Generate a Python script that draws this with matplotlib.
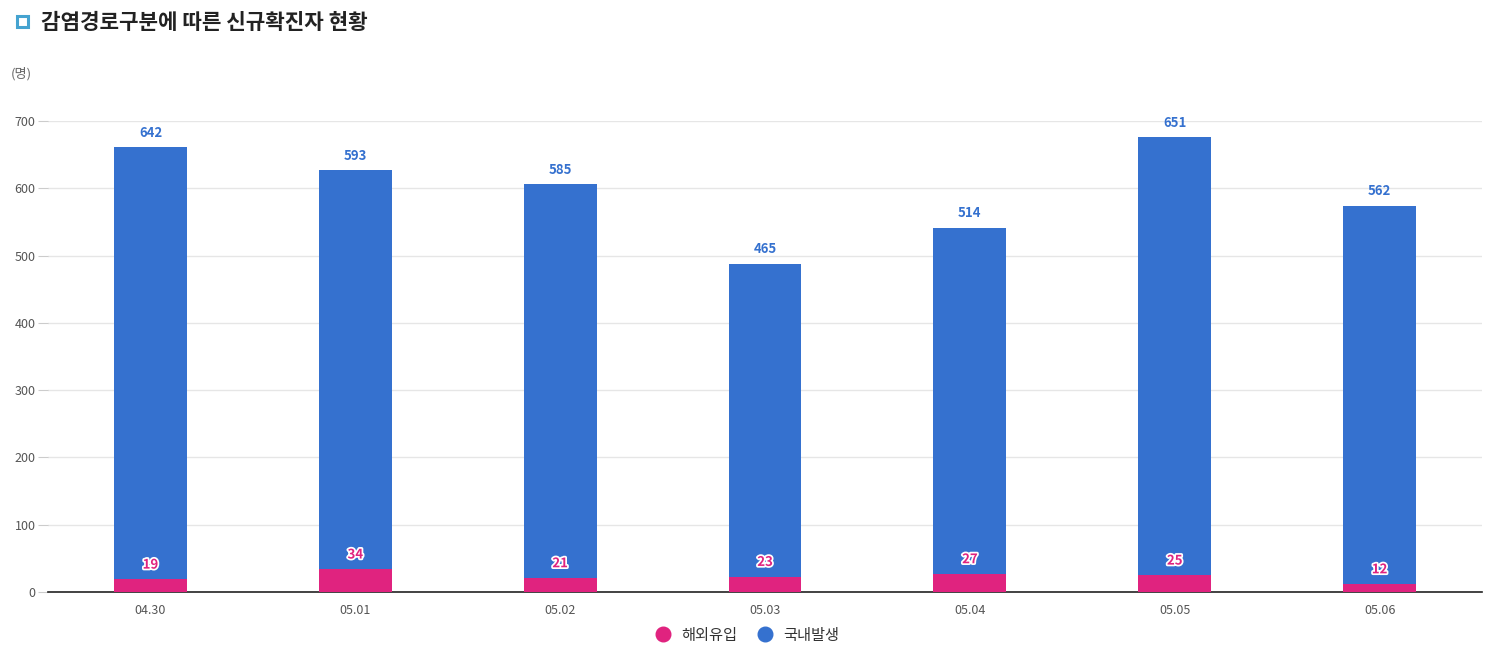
import matplotlib
matplotlib.use("Agg")
import matplotlib.pyplot as plt
import matplotlib.patheffects as pe
from matplotlib.patches import Rectangle
from matplotlib.lines import Line2D

plt.rcParams['font.family'] = ['Noto Sans CJK KR', 'DejaVu Sans']

dates = ["04.30", "05.01", "05.02", "05.03", "05.04", "05.05", "05.06"]
overseas = [19, 34, 21, 23, 27, 25, 12]
domestic = [642, 593, 585, 465, 514, 651, 562]

pink = "#E0237F"
blue = "#3571CF"

fig = plt.figure(figsize=(14.91, 6.46), dpi=100)
ax = fig.add_axes([0.0322, 0.0836, 0.9618, 0.7291])

x = list(range(len(dates)))
w = 0.356
ax.bar(x, overseas, width=w, color=pink, zorder=3)
ax.bar(x, domestic, width=w, bottom=overseas, color=blue, zorder=3)

for i in x:
    tot = overseas[i] + domestic[i]
    ax.annotate(str(domestic[i]), (i, tot), xytext=(0, 10.5), textcoords='offset points',
                ha='center', va='center', color=blue, fontsize=9.5, fontweight='bold', zorder=5)
    t = ax.annotate(str(overseas[i]), (i, overseas[i]), xytext=(0, 10.5), textcoords='offset points',
                    ha='center', va='center', color=pink, fontsize=9.5, fontweight='bold', zorder=5)
    t.set_path_effects([pe.withStroke(linewidth=2.5, foreground='white')])

ax.set_xlim(-0.5, len(dates) - 0.5)
ax.set_ylim(0, 700)
ax.set_yticks(range(0, 701, 100))
ax.set_xticks(x)
ax.set_xticklabels(dates)
ax.grid(axis='y', color='#e6e6e6', linewidth=1, zorder=0)
for s in ['top', 'right', 'left']:
    ax.spines[s].set_visible(False)
ax.spines['bottom'].set_color('#222222')
ax.spines['bottom'].set_linewidth(1.2)
ax.tick_params(axis='y', length=7, color='#cccccc', labelcolor='#555555', labelsize=9, pad=2)
ax.tick_params(axis='x', length=0, labelcolor='#555555', labelsize=9, pad=9)

# y unit
fig.text(0.0075, 0.885, "(명)", fontsize=9.5, color='#666666', ha='left', va='center')

# title with square icon
fig.patches.append(Rectangle((0.0115, 0.9575), 0.0075, 0.0175, transform=fig.transFigure,
                             fill=False, edgecolor='#45A3D0', linewidth=2.2))
fig.text(0.0275, 0.965, "감염경로구분에 따른 신규확진자 현황", fontsize=15.3, fontweight='bold',
         color='#222222', ha='left', va='center')

handles = [Line2D([], [], marker='o', linestyle='', color=pink, markersize=10.5),
           Line2D([], [], marker='o', linestyle='', color=blue, markersize=10.5)]
fig.legend(handles, ["해외유입", "국내발생"], loc='center', bbox_to_anchor=(0.4985, 0.017), ncol=2,
           frameon=False, fontsize=11, handletextpad=0.2, columnspacing=0.8, labelcolor='#333333',
           borderpad=0.1)

fig.savefig("out.png", dpi=100)
